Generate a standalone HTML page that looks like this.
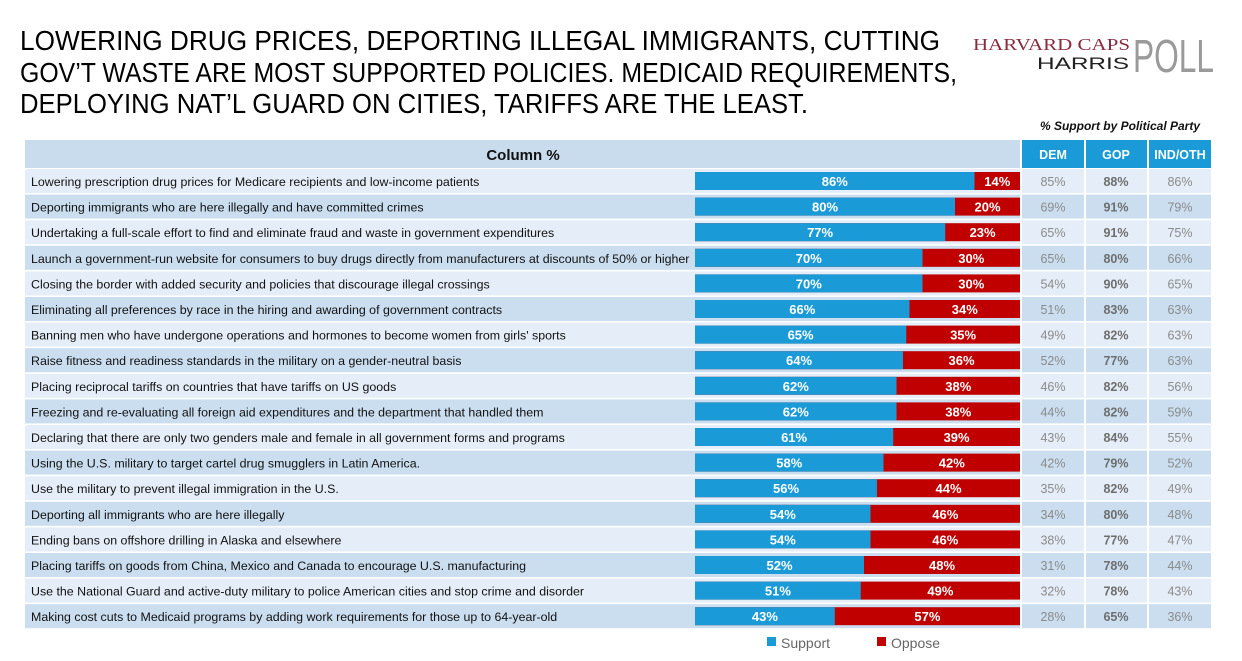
<!DOCTYPE html>
<html><head><meta charset="utf-8"><style>
body{margin:0;background:#fff;}
svg{display:block;font-family:"Liberation Sans",sans-serif;}
.l{font-size:12.4px;fill:#111;}
.b{font-size:13px;font-weight:bold;fill:#fff;text-anchor:middle;}
.p{font-size:12.5px;fill:#8a8a8a;text-anchor:middle;}
.g{font-size:12.5px;fill:#6e6e6e;font-weight:bold;text-anchor:middle;}
.L{fill:#e5eef8}.D{fill:#cbdef0}
</style></head><body>
<svg width="1242" height="661" viewBox="0 0 1242 661">
<g font-size="28" fill="#000">
<text x="20" y="50" textLength="920" lengthAdjust="spacingAndGlyphs">LOWERING DRUG PRICES, DEPORTING ILLEGAL IMMIGRANTS, CUTTING</text>
<text x="20" y="82" textLength="937" lengthAdjust="spacingAndGlyphs">GOV’T WASTE ARE MOST SUPPORTED POLICIES. MEDICAID REQUIREMENTS,</text>
<text x="20" y="113" textLength="788" lengthAdjust="spacingAndGlyphs">DEPLOYING NAT’L GUARD ON CITIES, TARIFFS ARE THE LEAST.</text>
</g>
<text x="973" y="50" font-family="Liberation Serif,serif" font-size="17" fill="#8a2a3e" textLength="157" lengthAdjust="spacingAndGlyphs">HARVARD CAPS</text>
<text x="1037" y="69" font-size="17" fill="#222" textLength="92" lengthAdjust="spacingAndGlyphs">HARRIS</text>
<text x="1133" y="72" font-size="46" fill="#9a9a9a" textLength="81" lengthAdjust="spacingAndGlyphs">POLL</text>
<text x="1200" y="130" font-size="12" font-weight="bold" font-style="italic" text-anchor="end" fill="#111">% Support by Political Party</text>
<rect x="25" y="140" width="995" height="28" fill="#c9dcee"/>
<text x="523" y="160" font-size="15" font-weight="bold" text-anchor="middle" fill="#111">Column %</text>
<rect x="1022" y="140" width="62" height="28" fill="#1a9bd7"/>
<rect x="1086" y="140" width="61" height="28" fill="#1a9bd7"/>
<rect x="1149" y="140" width="62" height="28" fill="#1a9bd7"/>
<g font-size="12.5" font-weight="bold" fill="#fff" text-anchor="middle">
<text x="1053" y="159">DEM</text><text x="1116" y="159">GOP</text><text x="1180" y="159">IND/OTH</text></g>

<defs>
<g id="rL"><rect x="25" y="0" width="995" height="24" class="L"/><rect x="1022" y="0" width="62" height="24" class="L"/><rect x="1086" y="0" width="61" height="24" class="L"/><rect x="1149" y="0" width="62" height="24" class="L"/><rect x="695" y="3" width="325" height="18" fill="#c00000"/></g>
<g id="rD"><rect x="25" y="0" width="995" height="24" class="D"/><rect x="1022" y="0" width="62" height="24" class="D"/><rect x="1086" y="0" width="61" height="24" class="D"/><rect x="1149" y="0" width="62" height="24" class="D"/><rect x="695" y="3" width="325" height="18" fill="#c00000"/></g>
</defs>

<g transform="translate(0,169)"><use href="#rL"/><rect x="695" y="3" width="279.5" height="18" fill="#1a9bd7"/><text x="31" y="17" class="l">Lowering prescription drug prices for Medicare recipients and low-income patients</text><text x="834.75" y="17" class="b">86%</text><text x="997.25" y="17" class="b">14%</text><text x="1053" y="17" class="p">85%</text><text x="1116" y="17" class="g">88%</text><text x="1180" y="17" class="p">86%</text></g>
<g transform="translate(0,194.6)"><use href="#rD"/><rect x="695" y="3" width="260" height="18" fill="#1a9bd7"/><text x="31" y="17" class="l">Deporting immigrants who are here illegally and have committed crimes</text><text x="825" y="17" class="b">80%</text><text x="987.5" y="17" class="b">20%</text><text x="1053" y="17" class="p">69%</text><text x="1116" y="17" class="g">91%</text><text x="1180" y="17" class="p">79%</text></g>
<g transform="translate(0,220.2)"><use href="#rL"/><rect x="695" y="3" width="250.25" height="18" fill="#1a9bd7"/><text x="31" y="17" class="l">Undertaking a full-scale effort to find and eliminate fraud and waste in government expenditures</text><text x="820.1" y="17" class="b">77%</text><text x="982.6" y="17" class="b">23%</text><text x="1053" y="17" class="p">65%</text><text x="1116" y="17" class="g">91%</text><text x="1180" y="17" class="p">75%</text></g>
<g transform="translate(0,245.8)"><use href="#rD"/><rect x="695" y="3" width="227.5" height="18" fill="#1a9bd7"/><text x="31" y="17" class="l">Launch a government-run website for consumers to buy drugs directly from manufacturers at discounts of 50% or higher</text><text x="808.75" y="17" class="b">70%</text><text x="971.25" y="17" class="b">30%</text><text x="1053" y="17" class="p">65%</text><text x="1116" y="17" class="g">80%</text><text x="1180" y="17" class="p">66%</text></g>
<g transform="translate(0,271.4)"><use href="#rL"/><rect x="695" y="3" width="227.5" height="18" fill="#1a9bd7"/><text x="31" y="17" class="l">Closing the border with added security and policies that discourage illegal crossings</text><text x="808.75" y="17" class="b">70%</text><text x="971.25" y="17" class="b">30%</text><text x="1053" y="17" class="p">54%</text><text x="1116" y="17" class="g">90%</text><text x="1180" y="17" class="p">65%</text></g>
<g transform="translate(0,297)"><use href="#rD"/><rect x="695" y="3" width="214.5" height="18" fill="#1a9bd7"/><text x="31" y="17" class="l">Eliminating all preferences by race in the hiring and awarding of government contracts</text><text x="802.25" y="17" class="b">66%</text><text x="964.75" y="17" class="b">34%</text><text x="1053" y="17" class="p">51%</text><text x="1116" y="17" class="g">83%</text><text x="1180" y="17" class="p">63%</text></g>
<g transform="translate(0,322.6)"><use href="#rL"/><rect x="695" y="3" width="211.25" height="18" fill="#1a9bd7"/><text x="31" y="17" class="l">Banning men who have undergone operations and hormones to become women from girls' sports</text><text x="800.6" y="17" class="b">65%</text><text x="963.1" y="17" class="b">35%</text><text x="1053" y="17" class="p">49%</text><text x="1116" y="17" class="g">82%</text><text x="1180" y="17" class="p">63%</text></g>
<g transform="translate(0,348.2)"><use href="#rD"/><rect x="695" y="3" width="208" height="18" fill="#1a9bd7"/><text x="31" y="17" class="l">Raise fitness and readiness standards in the military on a gender-neutral basis</text><text x="799" y="17" class="b">64%</text><text x="961.5" y="17" class="b">36%</text><text x="1053" y="17" class="p">52%</text><text x="1116" y="17" class="g">77%</text><text x="1180" y="17" class="p">63%</text></g>
<g transform="translate(0,373.8)"><use href="#rL"/><rect x="695" y="3" width="201.5" height="18" fill="#1a9bd7"/><text x="31" y="17" class="l">Placing reciprocal tariffs on countries that have tariffs on US goods</text><text x="795.75" y="17" class="b">62%</text><text x="958.25" y="17" class="b">38%</text><text x="1053" y="17" class="p">46%</text><text x="1116" y="17" class="g">82%</text><text x="1180" y="17" class="p">56%</text></g>
<g transform="translate(0,399.4)"><use href="#rD"/><rect x="695" y="3" width="201.5" height="18" fill="#1a9bd7"/><text x="31" y="17" class="l">Freezing and re-evaluating all foreign aid expenditures and the department that handled them</text><text x="795.75" y="17" class="b">62%</text><text x="958.25" y="17" class="b">38%</text><text x="1053" y="17" class="p">44%</text><text x="1116" y="17" class="g">82%</text><text x="1180" y="17" class="p">59%</text></g>
<g transform="translate(0,425)"><use href="#rL"/><rect x="695" y="3" width="198.25" height="18" fill="#1a9bd7"/><text x="31" y="17" class="l">Declaring that there are only two genders male and female in all government forms and programs</text><text x="794.1" y="17" class="b">61%</text><text x="956.6" y="17" class="b">39%</text><text x="1053" y="17" class="p">43%</text><text x="1116" y="17" class="g">84%</text><text x="1180" y="17" class="p">55%</text></g>
<g transform="translate(0,450.6)"><use href="#rD"/><rect x="695" y="3" width="188.5" height="18" fill="#1a9bd7"/><text x="31" y="17" class="l">Using the U.S. military to target cartel drug smugglers in Latin America.</text><text x="789.25" y="17" class="b">58%</text><text x="951.75" y="17" class="b">42%</text><text x="1053" y="17" class="p">42%</text><text x="1116" y="17" class="g">79%</text><text x="1180" y="17" class="p">52%</text></g>
<g transform="translate(0,476.2)"><use href="#rL"/><rect x="695" y="3" width="182" height="18" fill="#1a9bd7"/><text x="31" y="17" class="l">Use the military to prevent illegal immigration in the U.S.</text><text x="786" y="17" class="b">56%</text><text x="948.5" y="17" class="b">44%</text><text x="1053" y="17" class="p">35%</text><text x="1116" y="17" class="g">82%</text><text x="1180" y="17" class="p">49%</text></g>
<g transform="translate(0,501.8)"><use href="#rD"/><rect x="695" y="3" width="175.5" height="18" fill="#1a9bd7"/><text x="31" y="17" class="l">Deporting all immigrants who are here illegally</text><text x="782.75" y="17" class="b">54%</text><text x="945.25" y="17" class="b">46%</text><text x="1053" y="17" class="p">34%</text><text x="1116" y="17" class="g">80%</text><text x="1180" y="17" class="p">48%</text></g>
<g transform="translate(0,527.4)"><use href="#rL"/><rect x="695" y="3" width="175.5" height="18" fill="#1a9bd7"/><text x="31" y="17" class="l">Ending bans on offshore drilling in Alaska and elsewhere</text><text x="782.75" y="17" class="b">54%</text><text x="945.25" y="17" class="b">46%</text><text x="1053" y="17" class="p">38%</text><text x="1116" y="17" class="g">77%</text><text x="1180" y="17" class="p">47%</text></g>
<g transform="translate(0,553)"><use href="#rD"/><rect x="695" y="3" width="169" height="18" fill="#1a9bd7"/><text x="31" y="17" class="l">Placing tariffs on goods from China, Mexico and Canada to encourage U.S. manufacturing</text><text x="779.5" y="17" class="b">52%</text><text x="942" y="17" class="b">48%</text><text x="1053" y="17" class="p">31%</text><text x="1116" y="17" class="g">78%</text><text x="1180" y="17" class="p">44%</text></g>
<g transform="translate(0,578.6)"><use href="#rL"/><rect x="695" y="3" width="165.75" height="18" fill="#1a9bd7"/><text x="31" y="17" class="l">Use the National Guard and active-duty military to police American cities and stop crime and disorder</text><text x="777.9" y="17" class="b">51%</text><text x="940.4" y="17" class="b">49%</text><text x="1053" y="17" class="p">32%</text><text x="1116" y="17" class="g">78%</text><text x="1180" y="17" class="p">43%</text></g>
<g transform="translate(0,604.2)"><use href="#rD"/><rect x="695" y="3" width="139.75" height="18" fill="#1a9bd7"/><text x="31" y="17" class="l">Making cost cuts to Medicaid programs by adding work requirements for those up to 64-year-old</text><text x="764.9" y="17" class="b">43%</text><text x="927.4" y="17" class="b">57%</text><text x="1053" y="17" class="p">28%</text><text x="1116" y="17" class="g">65%</text><text x="1180" y="17" class="p">36%</text></g>

<rect x="767" y="637" width="9" height="9" fill="#1a9bd7"/>
<text x="781" y="648" font-size="14" fill="#666">Support</text>
<rect x="877" y="637" width="9" height="9" fill="#c00000"/>
<text x="891" y="648" font-size="14" fill="#666">Oppose</text>
</svg>
</body></html>
